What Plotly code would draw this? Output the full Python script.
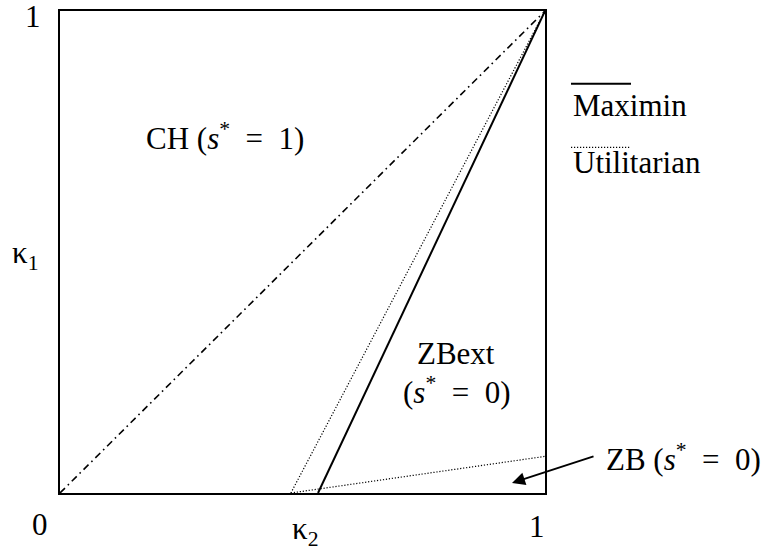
import plotly.graph_objects as go

# boundary lines (kappa2 on x, kappa1 on y)
diag_x = [0, 1]
diag_y = [0, 1]
maximin_x = [0.532, 1]
maximin_y = [0, 1]
util_x = [0.476, 1]
util_y = [0, 1]
zb_x = [0.476, 1]
zb_y = [0, 0.076]

FONT = "Liberation Serif"
FS = 31

fig = go.Figure()
fig.add_trace(go.Scatter(x=diag_x, y=diag_y, mode="lines",
                         line=dict(color="black", width=1.6, dash="7px,4px,1.6px,4px")))
fig.add_trace(go.Scatter(x=util_x, y=util_y, mode="lines",
                         line=dict(color="black", width=1.2, dash="1.2px,1.8px")))
fig.add_trace(go.Scatter(x=zb_x, y=zb_y, mode="lines",
                         line=dict(color="black", width=1.2, dash="1.2px,1.8px")))
fig.add_trace(go.Scatter(x=maximin_x, y=maximin_y, mode="lines",
                         line=dict(color="black", width=2)))

W, H = 762, 551
L, R, T, B = 60, 545, 9, 493
pw, ph = R - L, B - T


def px(x):
    return (x - L) / pw


def py(y):
    return (B - y) / ph


ann = []


def txt(t, x, y, xa="center", size=FS, fam=FONT):
    ann.append(dict(text=t, x=px(x), y=py(y), xref="paper", yref="paper",
                    xanchor=xa, yanchor="middle", showarrow=False,
                    font=dict(family=fam, size=size, color="black")))


EQ = "&#8194;=&#8194;"
txt("1", 33, 15)
txt("0", 40, 525)
txt("1", 537, 527)
txt("κ<sub>2</sub>", 305, 531)
txt("κ<sub>1</sub>", 25, 254)
txt("CH (<i>s</i><sup>*</sup>" + EQ + "1)", 225, 135)
txt("ZBext", 456, 353)
txt("(<i>s</i><sup>*</sup>" + EQ + "0)", 457, 390)
txt("ZB (<i>s</i><sup>*</sup>" + EQ + "0)", 604, 457, xa="left")
txt("Maximin", 571, 104, xa="left")
txt("Utilitarian", 571, 161, xa="left")

# arrow
ann.append(dict(text="", x=0.932, y=0.021, xref="x", yref="y",
                ax=83, ay=-27, axref="pixel", ayref="pixel",
                showarrow=True, arrowhead=2, arrowsize=1.3, arrowwidth=2,
                arrowcolor="black"))

shapes = [
    dict(type="line", xref="paper", yref="paper", x0=px(571), x1=px(631),
         y0=py(82), y1=py(82), line=dict(color="black", width=2)),
    dict(type="line", xref="paper", yref="paper", x0=px(571), x1=px(630),
         y0=py(146), y1=py(146), line=dict(color="black", width=1.2, dash="1.2px,1.8px")),
]

fig.update_layout(
    width=W, height=H,
    margin=dict(l=L, r=W - R, t=T, b=H - B),
    paper_bgcolor="white", plot_bgcolor="white",
    showlegend=False,
    font=dict(family=FONT),
    xaxis=dict(range=[0, 1], showgrid=False, zeroline=False, showticklabels=False,
               ticks="", showline=True, mirror=True, linecolor="black", linewidth=2),
    yaxis=dict(range=[0, 1], showgrid=False, zeroline=False, showticklabels=False,
               ticks="", showline=True, mirror=True, linecolor="black", linewidth=2),
    annotations=ann, shapes=shapes,
)

fig.write_html("out.html", config={"displayModeBar": False},
               post_script="document.body.style.margin='0';")
